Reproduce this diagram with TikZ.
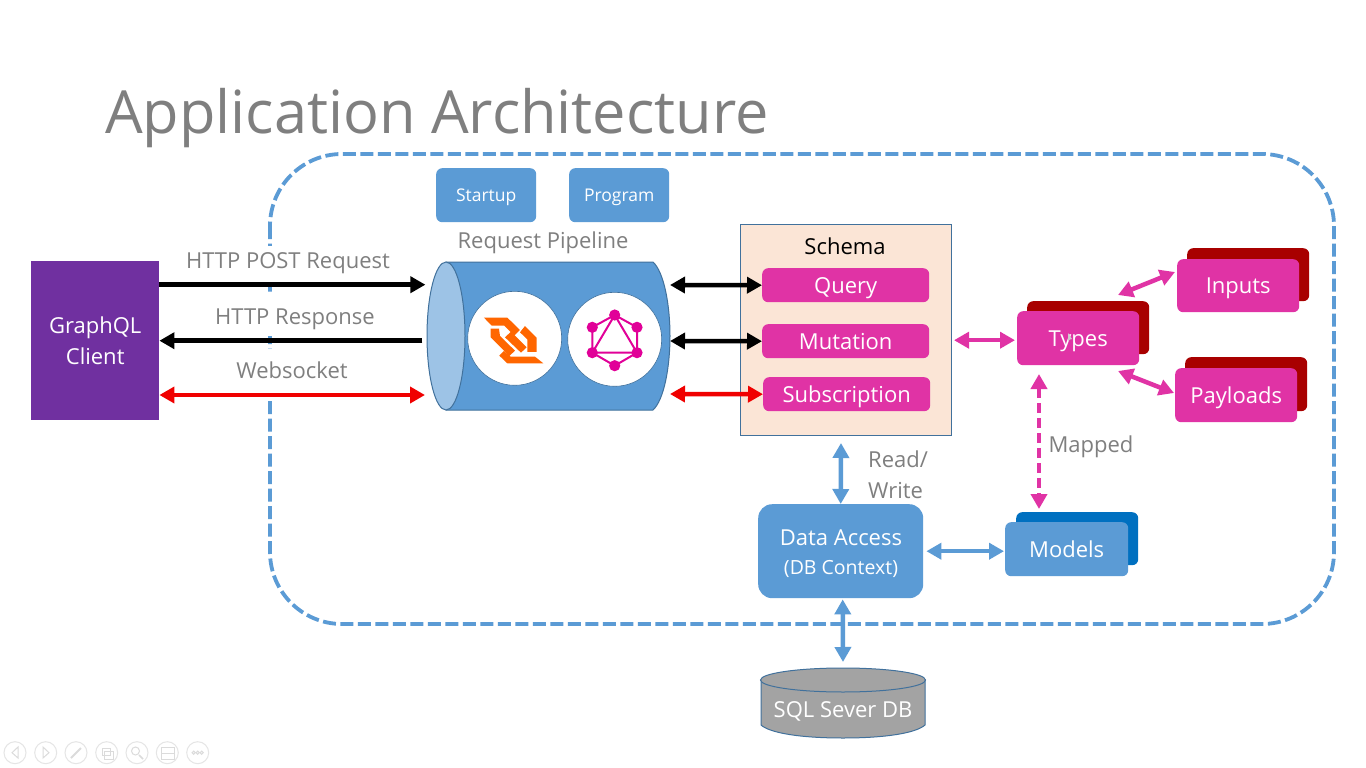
\documentclass[tikz,border=0pt]{standalone}
\usepackage{fontspec}
\setmainfont{Open Sans}
\usetikzlibrary{arrows.meta,calc,shapes.geometric}
\definecolor{azure}{HTML}{5B9BD5}
\definecolor{azuredark}{HTML}{0070C0}
\definecolor{azurelight}{HTML}{9DC3E6}
\definecolor{rimblue}{HTML}{41719C}
\definecolor{magentabox}{HTML}{E033A5}
\definecolor{darkred}{HTML}{A80000}
\definecolor{purplebox}{HTML}{7030A0}
\definecolor{peach}{HTML}{FBE5D6}
\definecolor{greytext}{HTML}{7F7F7F}
\definecolor{redarrow}{HTML}{F00000}
\definecolor{wsorange}{HTML}{FF6600}
\definecolor{gqlpink}{HTML}{E10098}
\newcommand{\fs}[1]{\fontsize{#1}{#1}\selectfont}
\tikzset{
  x=1pt,y=-1pt,
  oneline/.style={text depth=0pt,text height=15.7pt},
  lbl/.style={oneline,text=greytext,font=\fs{22},inner sep=0pt},
  masklbl/.style={text=greytext,font=\fs{22},inner xsep=3pt,inner ysep=0pt,fill=white,anchor=base},
  box/.style={rounded corners=6pt,inner sep=0pt,text=white,font=\fs{22},align=center},
  pinkbox/.style={box,oneline,fill=magentabox},
  shadowred/.style={rounded corners=6pt,fill=darkred,inner sep=0pt},
  bluebox/.style={box,fill=azure},
  conn/.style={line width=4.5pt,{Triangle[length=15pt,width=16pt]}-{Triangle[length=15pt,width=16pt]}},
  oneway/.style={line width=4.5pt,-{Triangle[length=15pt,width=16pt]}},
  uibtn/.style={circle,draw=black!10,line width=1pt,minimum size=22pt,inner sep=0pt},
  uiicon/.style={draw=black!14,line width=1pt},
}
\newcommand{\rect}[6]{\node[#1,minimum width=#4pt-#2pt,minimum height=#5pt-#3pt,anchor=north west] (#6) at (#2,#3)}
\begin{document}
\begin{tikzpicture}
\useasboundingbox (0,0) rectangle (1366,768);
\fill[white] (0,0) rectangle (1366,768);

% title
\node[anchor=west,inner sep=0pt,text=greytext,font=\fs{59.5},text depth=0pt,text height=42.5pt] (title) at (105,112) {Application Architecture};

% dashed boundary
\draw[azure,line width=3.8pt,dash pattern=on 13pt off 4.5pt,rounded corners=72pt] (270,154) rectangle (1334,624);

% client
\rect{fill=purplebox,inner sep=0pt,text=white,font=\fs{22},align=center}{31}{261}{159}{420}{client} {GraphQL\\[9pt]Client};

% pipeline cylinder
\fill[azure,draw=rimblue,line width=1pt] (446,262) -- (653,262) .. controls (664,272) and (670,305) .. (670,336) .. controls (670,367) and (664,400) .. (653,410) -- (446,410) -- cycle;
\node[ellipse,fill=azurelight,draw=rimblue,line width=1pt,minimum width=38pt,minimum height=148pt,inner sep=0pt] (cylcap) at (446,336) {};

\node[circle,fill=white,draw=rimblue,line width=.6pt,minimum size=94pt,inner sep=0pt] (wsdisc) at (514.7,338.3) {};
\node[circle,fill=white,draw=rimblue,line width=.6pt,minimum size=94pt,inner sep=0pt] (gqldisc) at (614.7,339.3) {};

% websocket logo
\begin{scope}[shift={(420,250)},x=.3333pt,y=-.3333pt,fill=wsorange]
\fill (192,203) -- (262,203) -- (300,240) -- (283,257) -- (253,227) -- (215,227) -- cycle;
\fill (212,236) -- (237,236) -- (240,258) -- (285,302) -- (268,318) -- (212,262) -- cycle;
\fill (255,262) -- (273,245) -- (320,292) -- (303,308) -- cycle;
\fill (315,228) -- (350,263) -- (350,306) -- (322,306) -- (322,268) -- (300,247) -- cycle;
\fill (252,303) -- (272,320) -- (345,320) -- (370,340) -- (262,340) -- (238,317) -- cycle;
\end{scope}

% graphql logo
\begin{scope}[gqlpink]
\coordinate (g1) at (614.7,315);
\coordinate (g2) at (637,327.3);
\coordinate (g3) at (637,352.7);
\coordinate (g4) at (614.7,365.7);
\coordinate (g5) at (592.3,352.7);
\coordinate (g6) at (592.3,327.3);
\draw[line width=2pt] (g1) -- (g2) -- (g3) -- (g4) -- (g5) -- (g6) -- cycle;
\draw[line width=2pt] (g1) -- (g3) -- (g5) -- cycle;
\foreach \g in {g1,g2,g3,g4,g5,g6} \fill (\g) circle (5.6pt);
\end{scope}

% top boxes
\rect{bluebox,font=\fs{17.5},text depth=0pt,text height=12.5pt}{436}{168}{536}{222}{startup} {Startup};
\rect{bluebox,font=\fs{17.5},text depth=0pt,text height=12.5pt}{569}{168}{669}{222}{program} {Program};
\node[lbl] (reqpipe) at (543,240.5) {Request Pipeline};

% schema
\rect{fill=peach,draw=rimblue,line width=1pt,inner sep=0pt}{740}{224}{951}{435}{schema} {};
\node[oneline,inner sep=0pt,text=black,font=\fs{22}] (schemat) at (845,247) {Schema};
\rect{pinkbox}{762}{268}{929}{302}{query} {Query};
\rect{pinkbox}{762}{324}{929}{358}{mutation} {Mutation};
\rect{pinkbox}{763}{377}{930}{411}{subscr} {Subscription};

% types group
\rect{shadowred}{1027}{301}{1149}{354}{typesback} {};
\rect{pinkbox}{1017}{311}{1139}{365}{types} {Types};
\fill[white!80!black] (1068,333) -- (1068,341) -- (1070,339.5) -- (1072,339) -- cycle;
\rect{shadowred}{1187}{248}{1309}{301}{inputsback} {};
\rect{pinkbox}{1177}{259}{1299}{312}{inputs} {Inputs};
\rect{shadowred}{1185}{357}{1307}{411}{payloadsback} {};
\rect{pinkbox}{1175}{368}{1297}{422}{payloads} {Payloads};

% data
\rect{bluebox,rounded corners=14pt}{758}{504}{923}{598}{data} {};
\node[inner sep=0pt,text=white,font=\fs{22},align=center] (datatext) at (841,553.5) {Data Access\\[7pt]{\fs{19.5}(DB Context)}};
\rect{fill=azuredark,rounded corners=6pt,inner sep=0pt}{1016}{512}{1138}{565}{modelsback} {};
\rect{bluebox,oneline}{1005}{522}{1128}{576}{models} {Models};

% database
\fill[black!36,draw=rimblue,line width=1pt] (761,680) -- (761,725) .. controls (770,733) and (800,738) .. (843,738) .. controls (886,738) and (916,733) .. (925,725) -- (925,680) -- cycle;
\node[ellipse,fill=black!36,draw=rimblue,line width=1pt,minimum width=165pt,minimum height=24pt,inner sep=0pt] (dbtop) at (843,680) {};
\node[oneline,inner sep=0pt,text=white,font=\fs{22}] (db) at (843,710) {SQL Sever DB};
\coordinate (dbN) at (843,662);

% labels
\node[masklbl,text height=22pt,text depth=14pt] (l1) at (288,268) {HTTP POST Request};
\node[masklbl,text height=28pt,text depth=12pt] (l2) at (295,324) {HTTP Response};
\node[masklbl,text height=29.5pt,text depth=14.5pt] (l3) at (292,378.5) {Websocket};
\node[text=greytext,font=\fs{22},inner sep=0pt,align=left,anchor=north west] (l4) at (868,451) {Read/\\[9pt]Write};
\node[lbl] (l5) at (1091,445) {Mapped};

% connectors left
\draw[oneway,black] ($(client.east)+(0,-56)$) -- ($(client.east)+(266,-56)$);
\draw[oneway,black] ($(client.east)+(263,0)$) -- (client.east);
\draw[conn,redarrow] (client.east |- 0,395) -- (425,395);

% pipeline <-> schema
\draw[conn,black] (670,285) -- (query.west);
\draw[conn,black] (670,341) -- (mutation.west);
\draw[conn,redarrow] (670,394) -- (subscr.west);

% types
\draw[conn,magentabox] ($(schema.east |- types.west)+(2,2)$) -- ($(types.west)+(-2,2)$);
\draw[conn,magentabox] (1118,295) -- (1175,272);
\draw[conn,magentabox] (1118,371) -- (1174,393);
\draw[conn,magentabox,dash pattern=on 10pt off 5pt] (1039,374) -- (1039,509);

% blue
\draw[conn,azure] (841,443) -- (data.north);
\draw[conn,azure] ($(data.south)+(2,1)$) -- (dbN);
\draw[conn,azure] ($(data.east)+(3,0)$) -- ($(models.west)+(-1,2)$);

% slide buttons
\node[uibtn] (b1) at (15,752.7) {};
\node[uibtn] (b2) at (45.7,752.7) {};
\node[uibtn] (b3) at (76,752.7) {};
\node[uibtn] (b4) at (106.7,752.7) {};
\node[uibtn] (b5) at (137,752.7) {};
\node[uibtn] (b6) at (167.3,752.7) {};
\node[uibtn] (b7) at (197.7,752.7) {};
\draw[uiicon] (18,747) -- (12,752.7) -- (18,758) -- cycle;
\draw[uiicon] (43,747) -- (49,752.7) -- (43,758) -- cycle;
\draw[uiicon,line width=2pt] (71,758) -- (81,748);
\draw[uiicon] (102,748) rectangle (110,755);
\draw[uiicon] (104,751) rectangle (113,759);
\draw[uiicon] (135.5,751) circle (4pt);
\draw[uiicon,line width=1.6pt] (139,755) -- (143,759);
\draw[uiicon] (161,747) rectangle (174,759);
\draw[uiicon] (161,753) -- (174,753);
\foreach \dx in {-4,0,4} \draw[uiicon] (197.7+\dx,752.7) circle (1.6pt);
\end{tikzpicture}
\end{document}
